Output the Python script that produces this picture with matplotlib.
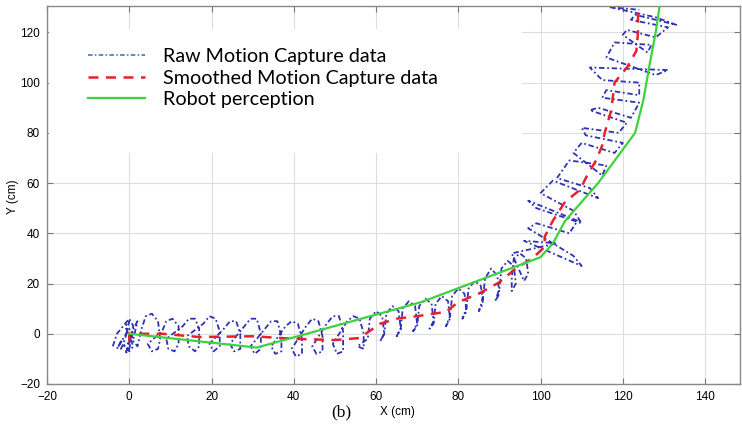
"""
Trajectory plot: raw / smoothed motion capture vs robot perception
"""
import matplotlib
matplotlib.use("Agg")
import matplotlib.pyplot as plt
from matplotlib.patches import Rectangle

# Raw motion capture trace (scribbly loops around the path)
raw_x = [-4, -3, -1, 0, 1, 0, -1, 0, 1, 2, 1, -2, -1, 0, -1, 1, 0, -2, -3, 0, 1,
         2, 3, 4, 5.5, 7, 7.5, 7, 5.5, 4.5,
         8, 9, 10.5, 12, 12, 11, 9.5, 9,
         13, 14.5, 16, 17, 17, 16, 14.5, 14,
         18, 19.5, 21, 22, 22, 20.5, 19.5,
         23, 24.5, 26, 27, 27, 25.5, 24.5,
         28, 29.5, 31, 32, 32, 30.5, 29.5,
         33, 34.5, 36, 37, 37, 35.5, 34.5,
         38, 39.5, 41, 42, 42, 40.5, 39.5,
         43, 44.5, 46, 47, 47, 45.5, 44.5,
         48, 49.5, 51, 52, 52, 50.5, 49.5,
         53, 54.5, 56, 57, 57, 55.5,
         58, 58.5, 60, 61.5, 62, 61,
         62, 62.5, 64, 65.5, 66, 65,
         66, 66.5, 68, 69.5, 70, 69,
         70, 70.5, 72, 73.5, 74, 73,
         74, 74.5, 76, 77.5, 78, 77,
         78, 78.5, 80, 81.5, 82, 81,
         82, 82.5, 84, 85.5, 86, 85,
         86, 86.5, 88, 89.5, 90, 89,
         90, 90.5, 92, 93.5, 94, 93,
         93, 93.5, 95, 96.5, 97, 96,
         93, 104, 96, 110, 108, 97, 99, 107, 109, 97, 99, 110, 108, 100, 103, 114, 112, 104,
         107, 116, 115, 108, 110, 118, 120, 111, 110, 119, 121, 112, 114, 122, 124, 115,
         116, 124, 124, 115, 112, 131, 128, 116, 118, 127, 126, 120, 121, 128, 131, 122,
         123, 133, 128, 117, 124]
raw_y = [-5, 0, 4, 6, 3, -4, -8, -6, 2, 5, -2, -6, -2, 5, 3, -5, -7, -3, -6, 2, -3,
         -5, 2, 7, 8, 5, -2, -6, -7, -4,
         1, 5, 6, 3, -4, -7, -6, -2,
         3, 6, 6, 2, -5, -7, -5, -1,
         4, 7, 6, 1, -5, -7, -4,
         2, 5, 5, 0, -6, -7, -4,
         3, 6, 6, 0, -6, -8, -5,
         2, 5, 5, -1, -7, -8, -5,
         3, 5, 4, -2, -8, -9, -6,
         3, 6, 5, -1, -7, -8, -5,
         4, 7, 7, 1, -7, -8, -4,
         5, 7, 6, 0, -6, -5,
         -2, 6, 9, 7, 0, -3,
         0, 8, 11, 9, 2, -1,
         2, 10, 13, 11, 4, 1,
         3, 11, 14, 12, 5, 2,
         4, 12, 15, 13, 6, 3,
         7, 15, 18, 16, 9, 6,
         10, 18, 21, 19, 12, 9,
         14, 22, 26, 23, 16, 13,
         18, 26, 29, 27, 20, 17,
         22, 30, 32, 30, 24, 21,
         32, 36, 37, 27, 31, 42, 44, 40, 45, 53, 50, 44, 49, 56, 61, 54, 58, 62,
         69, 67, 63, 72, 76, 72, 76, 79, 82, 80, 84, 89, 90, 86, 92, 94,
         97, 95, 100, 101, 106, 105, 103, 110, 116, 115, 112, 119, 121, 118, 122, 125,
         127, 123, 126, 130, 129]

# Smoothed motion capture trace
smooth_x = [0, 0, 8, 17, 30, 40, 50, 56, 61, 65, 70, 77, 80, 85, 90, 94, 98, 101,
            101, 103, 106, 109.6, 111.2, 113.6, 115, 115.6, 117.2, 118, 121, 123.3,
            123.7, 123.7]
smooth_y = [-3, 0, 0, -1.3, -1, -2, -2.5, -1.7, 4, 6, 7, 8.7, 12.6, 16, 20.5, 26, 30,
            34.6, 38.6, 45, 52.6, 57.3, 62.6, 69.3, 75, 80, 89, 100, 106, 112.6, 120, 130]

# Robot perception
robot_x = [0, 31, 71, 100, 103, 106, 114, 123, 125, 126.5, 128, 129]
robot_y = [0, -5.5, 12.6, 30.5, 36, 45, 60, 80, 93, 107, 120, 131]

xticks = [-20, 0, 20, 40, 60, 80, 100, 120, 140]
yticks = [-20, 0, 20, 40, 60, 80, 100, 120]

W, H = 742, 425
fig = plt.figure(figsize=(W / 100, H / 100), dpi=100)
ax = fig.add_axes([47 / W, 1 - 384 / H, (740 - 47) / W, (384 - 6) / H])

ax.plot(raw_x, raw_y, color='#2f32b5', lw=1.3, linestyle=(0, (3, 1.5, 1, 1.5)),
        label='Raw Motion Capture data', zorder=2)
ax.plot(smooth_x, smooth_y, color='#e8202a', lw=1.8, linestyle=(0, (4, 3)),
        label='Smoothed Motion Capture data', zorder=3)
ax.plot(robot_x, robot_y, color='#3cd33c', lw=1.6,
        label='Robot perception', zorder=4)

ax.set_xlim(-20, 148.5)
ax.set_ylim(-20, 130.5)
ax.set_xticks(xticks)
ax.set_yticks(yticks)
ax.grid(True, color='#dddddd', lw=0.8)
ax.tick_params(direction='in', top=True, right=True, length=4, color='#777777',
               labelsize=8.5, pad=5)
for lab in ax.get_xticklabels() + ax.get_yticklabels():
    lab.set_fontfamily('Liberation Sans')
for s in ax.spines.values():
    s.set_color('#888888')
    s.set_linewidth(1.0)

# white legend box (hides the grid behind it)
ax.add_patch(Rectangle((-19.5, 72), 115, 49.5, facecolor='white', edgecolor='none',
                       zorder=1.6))

leg = ax.legend(loc='upper left', bbox_to_anchor=(0.033, 0.935), frameon=False,
                prop={'family': 'Lato', 'size': 14.2}, handlelength=2.9,
                handletextpad=0.9, labelspacing=0.22)
leg.get_lines()[0].set_color('#2a6fc0')
leg.get_lines()[0].set_linewidth(1.1)

fig.text(13 / W, 1 - 197 / H, 'Y (cm)', rotation=90, ha='center', va='center',
         fontsize=8.5, family='Liberation Sans')
fig.text(397 / W, 1 - 412 / H, 'X (cm)', ha='center', va='center',
         fontsize=8.5, family='Liberation Sans')
fig.text(341 / W, 1 - 412 / H, '(b)', ha='center', va='center',
         fontsize=12.5, family='Liberation Serif')

fig.savefig('out.png', dpi=100)
